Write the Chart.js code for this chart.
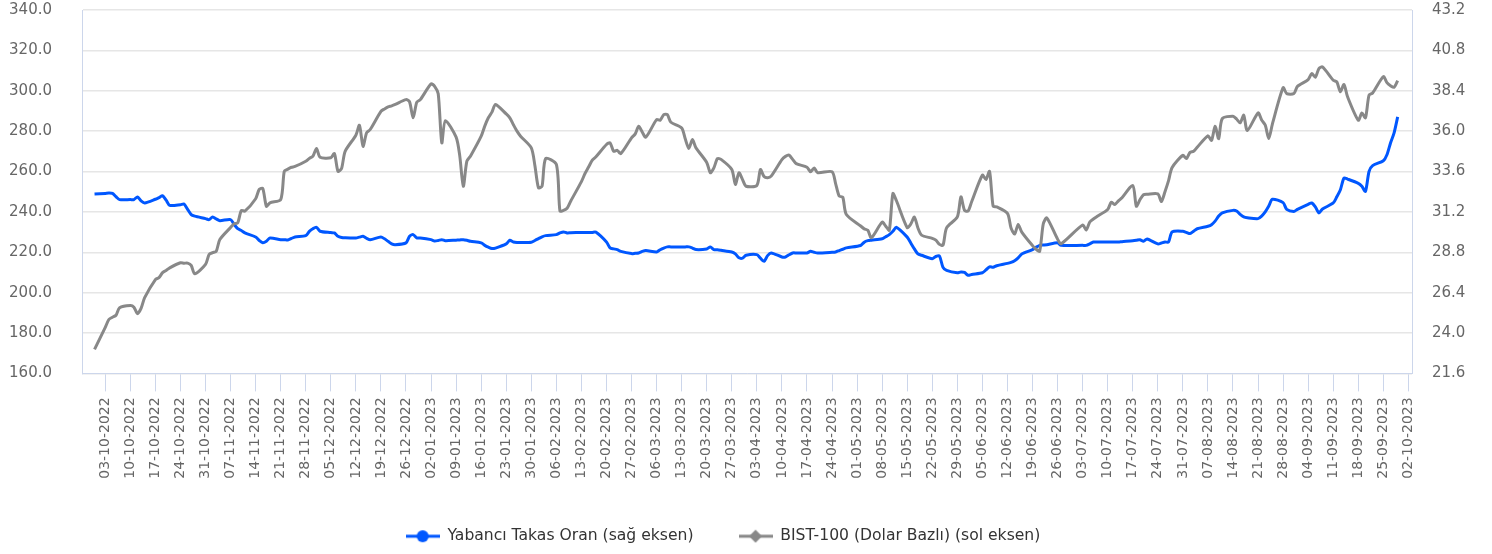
<!DOCTYPE html>
<html>
<head>
<meta charset="utf-8">
<script src="https://cdn.jsdelivr.net/npm/chart.js@4.4.0/dist/chart.umd.min.js"></script>
<style>
  html, body { margin: 0; padding: 0; background: #fff; }
</style>
</head>
<body>
<canvas id="takasChart" width="1492" height="554"></canvas>
<script>
// Weekly tick labels (Mondays)
const tickLabels = [
  '03-10-2022', '10-10-2022', '17-10-2022', '24-10-2022', '31-10-2022',
  '07-11-2022', '14-11-2022', '21-11-2022', '28-11-2022',
  '05-12-2022', '12-12-2022', '19-12-2022', '26-12-2022',
  '02-01-2023', '09-01-2023', '16-01-2023', '23-01-2023', '30-01-2023',
  '06-02-2023', '13-02-2023', '20-02-2023', '27-02-2023',
  '06-03-2023', '13-03-2023', '20-03-2023', '27-03-2023',
  '03-04-2023', '10-04-2023', '17-04-2023', '24-04-2023',
  '01-05-2023', '08-05-2023', '15-05-2023', '22-05-2023', '29-05-2023',
  '05-06-2023', '12-06-2023', '19-06-2023', '26-06-2023',
  '03-07-2023', '10-07-2023', '17-07-2023', '24-07-2023', '31-07-2023',
  '07-08-2023', '14-08-2023', '21-08-2023', '28-08-2023',
  '04-09-2023', '11-09-2023', '18-09-2023', '25-09-2023', '02-10-2023'
];

// Trading days
const dates = [
  '30-09-2022', '03-10-2022', '04-10-2022', '05-10-2022', '06-10-2022', '07-10-2022', '10-10-2022', '11-10-2022',
  '12-10-2022', '13-10-2022', '14-10-2022', '17-10-2022', '18-10-2022', '19-10-2022', '20-10-2022', '21-10-2022',
  '24-10-2022', '25-10-2022', '26-10-2022', '27-10-2022', '28-10-2022', '31-10-2022',
  '01-11-2022', '02-11-2022', '03-11-2022', '04-11-2022', '07-11-2022', '08-11-2022', '09-11-2022', '10-11-2022',
  '11-11-2022', '14-11-2022', '15-11-2022', '16-11-2022', '17-11-2022', '18-11-2022', '21-11-2022', '22-11-2022',
  '23-11-2022', '24-11-2022', '25-11-2022', '28-11-2022', '29-11-2022', '30-11-2022',
  '01-12-2022', '02-12-2022', '05-12-2022', '06-12-2022', '07-12-2022', '08-12-2022', '09-12-2022', '12-12-2022',
  '13-12-2022', '14-12-2022', '15-12-2022', '16-12-2022', '19-12-2022', '20-12-2022', '21-12-2022', '22-12-2022',
  '23-12-2022', '26-12-2022', '27-12-2022', '28-12-2022', '29-12-2022', '30-12-2022',
  '02-01-2023', '03-01-2023', '04-01-2023', '05-01-2023', '06-01-2023', '09-01-2023', '10-01-2023', '11-01-2023',
  '12-01-2023', '13-01-2023', '16-01-2023', '17-01-2023', '18-01-2023', '19-01-2023', '20-01-2023', '23-01-2023',
  '24-01-2023', '25-01-2023', '26-01-2023', '27-01-2023', '30-01-2023', '31-01-2023',
  '01-02-2023', '02-02-2023', '03-02-2023', '06-02-2023', '07-02-2023', '08-02-2023', '09-02-2023', '10-02-2023',
  '13-02-2023', '14-02-2023', '15-02-2023', '16-02-2023', '17-02-2023', '20-02-2023', '21-02-2023', '22-02-2023',
  '23-02-2023', '24-02-2023', '27-02-2023', '28-02-2023',
  '01-03-2023', '02-03-2023', '03-03-2023', '06-03-2023', '07-03-2023', '08-03-2023', '09-03-2023', '10-03-2023',
  '13-03-2023', '14-03-2023', '15-03-2023', '16-03-2023', '17-03-2023', '20-03-2023', '21-03-2023', '22-03-2023',
  '23-03-2023', '24-03-2023', '27-03-2023', '28-03-2023', '29-03-2023', '30-03-2023', '31-03-2023',
  '03-04-2023', '04-04-2023', '05-04-2023', '06-04-2023', '07-04-2023', '10-04-2023', '11-04-2023', '12-04-2023',
  '13-04-2023', '14-04-2023', '17-04-2023', '18-04-2023', '19-04-2023', '20-04-2023', '24-04-2023', '25-04-2023',
  '26-04-2023', '27-04-2023', '28-04-2023',
  '02-05-2023', '03-05-2023', '04-05-2023', '05-05-2023', '08-05-2023', '09-05-2023', '10-05-2023', '11-05-2023',
  '12-05-2023', '15-05-2023', '16-05-2023', '17-05-2023', '18-05-2023', '19-05-2023', '22-05-2023', '23-05-2023',
  '24-05-2023', '25-05-2023', '26-05-2023', '29-05-2023', '30-05-2023', '31-05-2023',
  '01-06-2023', '02-06-2023', '05-06-2023', '06-06-2023', '07-06-2023', '08-06-2023', '09-06-2023', '12-06-2023',
  '13-06-2023', '14-06-2023', '15-06-2023', '16-06-2023', '19-06-2023', '20-06-2023', '21-06-2023', '22-06-2023',
  '23-06-2023', '26-06-2023', '27-06-2023',
  '03-07-2023', '04-07-2023', '05-07-2023', '06-07-2023', '07-07-2023', '10-07-2023', '11-07-2023', '12-07-2023',
  '13-07-2023', '14-07-2023', '17-07-2023', '18-07-2023', '19-07-2023', '20-07-2023', '21-07-2023', '24-07-2023',
  '25-07-2023', '26-07-2023', '27-07-2023', '28-07-2023', '31-07-2023',
  '01-08-2023', '02-08-2023', '03-08-2023', '04-08-2023', '07-08-2023', '08-08-2023', '09-08-2023', '10-08-2023',
  '11-08-2023', '14-08-2023', '15-08-2023', '16-08-2023', '17-08-2023', '18-08-2023', '21-08-2023', '22-08-2023',
  '23-08-2023', '24-08-2023', '25-08-2023', '28-08-2023', '29-08-2023', '31-08-2023',
  '01-09-2023', '04-09-2023', '05-09-2023', '06-09-2023', '07-09-2023', '08-09-2023', '11-09-2023', '12-09-2023',
  '13-09-2023', '14-09-2023', '15-09-2023', '18-09-2023', '19-09-2023', '20-09-2023', '21-09-2023', '22-09-2023',
  '25-09-2023', '26-09-2023', '27-09-2023', '28-09-2023', '29-09-2023'
];

// Yabancı takas oranı (%), right axis
const takasValues = [
  32.26, 32.30, 32.32, 32.30, 32.10, 31.93, 31.93, 31.93, 32.09, 31.85, 31.73, 31.95, 32.05, 32.16, 31.90, 31.59,
  31.63, 31.67, 31.35, 31.04, 30.95, 30.80,
  30.74, 30.90, 30.78, 30.68, 30.74, 30.45, 30.20, 30.09, 29.95, 29.71, 29.50, 29.36, 29.45, 29.65, 29.55, 29.55,
  29.53, 29.62, 29.71, 29.79, 30.04, 30.20,
  30.28, 30.05, 29.97, 29.95, 29.75, 29.68, 29.66, 29.65, 29.70, 29.75, 29.63, 29.55, 29.71, 29.60, 29.45, 29.30,
  29.25, 29.36, 29.75, 29.85, 29.65, 29.65,
  29.55, 29.47, 29.50, 29.55, 29.49, 29.52, 29.53, 29.55, 29.51, 29.45, 29.36, 29.21, 29.10, 29.02, 29.05, 29.30,
  29.51, 29.41, 29.38, 29.38, 29.40, 29.50,
  29.61, 29.72, 29.79, 29.85, 29.95, 30.01, 29.95, 29.96, 29.98, 29.98, 29.98, 29.98, 30.00, 29.41, 29.06, 29.00,
  28.96, 28.85, 28.72, 28.74,
  28.76, 28.85, 28.90, 28.82, 28.95, 29.05, 29.12, 29.12, 29.12, 29.12, 29.12, 29.05, 28.96, 29.00, 29.12, 28.96,
  28.95, 28.92, 28.82, 28.70, 28.47, 28.45, 28.62,
  28.66, 28.45, 28.26, 28.60, 28.76, 28.52, 28.52, 28.65, 28.76, 28.76, 28.76, 28.86, 28.80, 28.76, 28.80, 28.82,
  28.90, 28.98, 29.06,
  29.20, 29.40, 29.49, 29.52, 29.60, 29.72, 29.85, 30.05, 30.28, 29.70, 29.35, 29.00, 28.70, 28.62, 28.42, 28.55,
  28.58, 27.90, 27.72, 27.58, 27.63, 27.60,
  27.43, 27.48, 27.58, 27.75, 27.93, 27.91, 28.00, 28.14, 28.20, 28.30, 28.47, 28.70, 28.96, 29.10, 29.21, 29.23,
  29.25, 29.36, 29.21,
  29.21, 29.21, 29.30, 29.41, 29.41, 29.41, 29.41, 29.41, 29.41, 29.43, 29.48, 29.51, 29.55, 29.45, 29.59, 29.30,
  29.35, 29.41, 29.41, 30.01, 30.05,
  29.98, 29.91, 30.05, 30.20, 30.35, 30.44, 30.65, 30.95, 31.14, 31.29, 31.25, 31.05, 30.90, 30.85, 30.80, 30.95,
  31.20, 31.55, 31.95, 31.75, 31.35, 31.23,
  31.35, 31.65, 31.73, 31.50, 31.14, 31.37, 31.73, 32.10, 32.52, 33.21, 33.15, 32.90, 32.72, 32.42, 33.60, 33.95,
  34.24, 34.60, 35.30, 35.90, 36.85
];

// BIST-100 dolar bazlı, left axis
const bistValues = [
  171.9, 182.8, 186.7, 187.8, 188.8, 192.5, 193.6, 192.8, 189.6, 192.2, 197.5, 206.5, 207.4, 209.9, 211.0, 212.3,
  214.8, 214.6, 214.6, 213.5, 209.3, 214.0,
  218.9, 219.8, 220.5, 226.3, 232.3, 234.1, 234.6, 240.7, 240.4, 246.5, 251.1, 251.6, 242.8, 244.5, 246.1, 260.1,
  261.2, 262.1, 262.5, 265.1, 266.5, 267.6,
  271.4, 267.1, 266.8, 268.9, 260.1, 261.5, 270.0, 278.0, 282.9, 272.5, 279.2, 280.8, 289.8, 291.0, 292.0, 292.5,
  293.2, 295.6, 294.5, 286.6, 294.3, 295.6,
  303.4, 302.2, 298.5, 274.2, 285.2, 277.0, 268.0, 252.7, 265.1, 267.6, 277.5, 282.5, 286.6, 289.4, 293.2, 288.5,
  286.6, 283.2, 280.0, 277.5, 271.7, 263.0,
  251.9, 252.7, 266.4, 263.5, 240.4, 240.8, 241.8, 245.3, 255.0, 259.0, 262.2, 265.5, 267.2, 273.4, 274.2, 270.0,
  270.5, 268.9, 276.7, 278.5,
  282.4, 279.5, 277.0, 285.7, 285.4, 288.2, 288.2, 284.4, 281.6, 276.2, 271.4, 275.8, 271.7, 264.5, 259.4, 261.8,
  266.4, 266.0, 261.0, 253.6, 259.4, 256.0, 252.7,
  253.1, 261.0, 257.5, 256.9, 257.7, 265.9, 267.5, 268.1, 266.0, 263.9, 262.1, 259.9, 261.8, 259.4, 259.9, 254.0,
  247.8, 247.3, 238.7,
  233.0, 231.6, 230.9, 227.2, 234.9, 232.9, 230.9, 249.1, 245.5, 232.2, 234.0, 237.4, 232.0, 228.5, 226.9, 226.0,
  223.9, 223.5, 232.1, 237.5, 247.5, 240.8,
  240.4, 245.0, 258.2, 256.0, 260.1, 242.8, 242.5, 239.3, 232.0, 229.0, 233.8, 230.0, 223.3, 221.5, 220.5, 234.0,
  237.0, 226.5, 224.2,
  233.5, 231.0, 235.0, 236.5, 237.7, 241.2, 244.8, 243.7, 245.5, 247.0, 253.1, 242.8, 246.0, 248.5, 248.7, 248.9,
  245.1, 250.0, 255.5, 262.0, 268.0,
  266.4, 269.5, 270.0, 272.0, 277.7, 275.4, 282.4, 276.3, 286.2, 287.4, 286.0, 284.1, 287.9, 280.3, 289.0, 285.5,
  283.0, 276.3, 283.5, 301.5, 298.6, 298.6,
  302.2, 305.5, 308.5, 306.7, 311.0, 311.8, 305.2, 304.4, 299.5, 303.1, 297.0, 285.4, 289.0, 286.6, 297.8, 298.9,
  307.0, 304.0, 302.5, 301.7, 305.0
];

const BLUE = '#0057ff';
const GREY = '#888888';

// days since first tick
const origin = tickLabels[0].split('-').map(Number);
function dayOf(s) {
  const [d, m, y] = s.split('-').map(Number);
  return (Date.UTC(y, m - 1, d) - Date.UTC(origin[2], origin[1] - 1, origin[0])) / 864e5;
}
const weekTicks = tickLabels.map(dayOf);
const xs = dates.map(dayOf);

// legend marker: short line with a circle / diamond in the middle
function legendSymbol(color, shape) {
  const c = document.createElement('canvas');
  c.width = 34; c.height = 14;
  const g = c.getContext('2d');
  g.strokeStyle = color; g.fillStyle = color; g.lineWidth = 3;
  g.beginPath(); g.moveTo(0, 7); g.lineTo(34, 7); g.stroke();
  g.beginPath();
  if (shape === 'circle') {
    g.arc(17, 7, 6, 0, Math.PI * 2);
  } else {
    g.moveTo(17, 0.5); g.lineTo(23.5, 7); g.lineTo(17, 13.5); g.lineTo(10.5, 7); g.closePath();
  }
  g.fill();
  return c;
}

// y axes: fixed width, no extra vertical padding from tick padding
function fixYAxis(width) {
  return (scale) => {
    scale.width = width;
    scale.paddingTop = 0;
    scale.paddingBottom = 0;
  };
}

Chart.defaults.font.family = '"DejaVu Sans", sans-serif';

const legendShift = {
  id: 'legendShift',
  afterLayout(chart) {
    chart.legend.left -= 23;
    chart.legend.right -= 23;
  }
};

const ctx = document.getElementById('takasChart').getContext('2d');
const takasChart = new Chart(ctx, {
  type: 'line',
  data: {
    datasets: [{
      label: 'Yabancı Takas Oran (sağ eksen)',
      data: xs.map((x, i) => ({ x: x, y: takasValues[i] })),
      yAxisID: 'yRight',
      borderColor: BLUE,
      backgroundColor: BLUE,
      borderWidth: 3,
      pointRadius: 0,
      tension: 0.25,
      order: 2
    }, {
      label: 'BIST-100 (Dolar Bazlı) (sol eksen)',
      data: xs.map((x, i) => ({ x: x, y: bistValues[i] })),
      yAxisID: 'yLeft',
      borderColor: GREY,
      backgroundColor: GREY,
      borderWidth: 3,
      pointRadius: 0,
      tension: 0.25,
      order: 1
    }]
  },
  options: {
    responsive: false,
    animation: false,
    layout: { padding: { top: 10, bottom: 0, left: 0, right: 0 } },
    plugins: {
      tooltip: { enabled: false },
      legend: {
        position: 'bottom',
        labels: {
          usePointStyle: true,
          pointStyleWidth: 34,
          padding: 45,
          color: '#333333',
          font: { size: 15.6 },
          generateLabels: (chart) => [
            { text: chart.data.datasets[0].label, pointStyle: legendSymbol(BLUE, 'circle'), datasetIndex: 0, lineWidth: 0, fontColor: '#333333' },
            { text: chart.data.datasets[1].label, pointStyle: legendSymbol(GREY, 'diamond'), datasetIndex: 1, lineWidth: 0, fontColor: '#333333' }
          ]
        }
      }
    },
    scales: {
      x: {
        type: 'linear',
        min: -6.5,
        max: 365,
        afterBuildTicks: (scale) => { scale.ticks = weekTicks.map(v => ({ value: v })); },
        afterFit: (scale) => { scale.height = 110; },
        grid: { drawOnChartArea: false, drawTicks: true, tickLength: 18, color: '#ccd6eb' },
        border: { color: '#ccd6eb' },
        ticks: {
          autoSkip: false,
          minRotation: 90,
          maxRotation: 90,
          padding: 6,
          color: '#666666',
          font: { size: 14 },
          callback: (v) => tickLabels[weekTicks.indexOf(v)]
        }
      },
      yLeft: {
        position: 'left',
        min: 160,
        max: 340,
        afterFit: fixYAxis(82),
        grid: { color: '#e6e6e6', lineWidth: 1.5, drawTicks: false },
        border: { color: '#ccd6eb' },
        ticks: { stepSize: 20, padding: 30, color: '#666666', font: { size: 15 }, callback: (v) => v.toFixed(1) }
      },
      yRight: {
        position: 'right',
        min: 21.6,
        max: 43.2,
        afterFit: fixYAxis(80),
        grid: { drawOnChartArea: false, drawTicks: false },
        border: { color: '#ccd6eb' },
        ticks: { stepSize: 2.4, padding: 20, color: '#666666', font: { size: 15 }, callback: (v) => v.toFixed(1) }
      }
    }
  },
  plugins: [legendShift]
});
</script>
</body>
</html>
